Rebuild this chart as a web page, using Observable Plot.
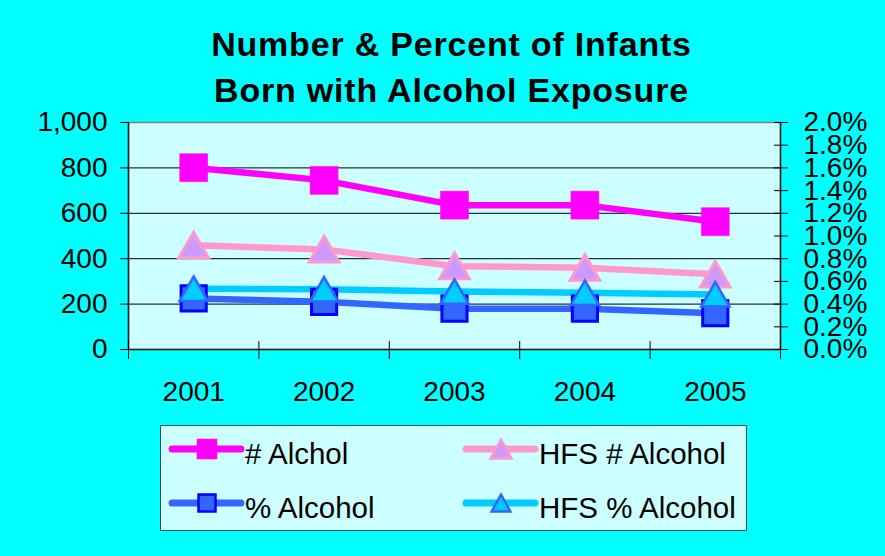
<!DOCTYPE html>
<html><head><meta charset="utf-8">
<script src="https://cdn.jsdelivr.net/npm/d3@7"></script>
<script src="https://cdn.jsdelivr.net/npm/@observablehq/plot@0.6"></script>
<style>
html,body{margin:0;padding:0;background:#00FFFF;}
#wrap{position:relative;width:885px;height:556px;background:#00FFFF;font-family:"Liberation Sans",Arial,sans-serif;overflow:hidden;}
#title{position:absolute;left:9px;top:21px;width:885px;text-align:center;font-weight:bold;font-size:34px;line-height:46px;letter-spacing:0.8px;color:#000;}
#chart{position:absolute;left:0;top:100px;}
#legend{position:absolute;left:160px;top:425px;width:585px;height:104px;border:1px solid #2F4F4F;background:#CCFFFF;}
#legend svg{display:block;}
</style>
</head><body>
<div id="wrap">
  <div id="title">Number &amp; Percent of Infants<br>Born with Alcohol Exposure</div>
  <div id="chart"></div>
  <div id="legend"></div>
</div>
<script>
// ---- data ----
const years = ["2001", "2002", "2003", "2004", "2005"];
const numAlchol = [801, 745, 636, 636, 563];          // # Alchol (left axis)
const hfsNumAlcohol = [459, 441, 367, 360, 331];      // HFS # Alcohol (left axis)
const pctAlcohol = [0.45, 0.42, 0.36, 0.36, 0.32];    // % Alcohol (right axis, %)
const hfsPctAlcohol = [0.535, 0.53, 0.51, 0.50, 0.485]; // HFS % Alcohol (right axis, %)
const leftTicks = [0, 200, 400, 600, 800, 1000];
const rightTicks = [0, 0.2, 0.4, 0.6, 0.8, 1.0, 1.2, 1.4, 1.6, 1.8, 2.0];
const seriesNames = ["# Alchol", "HFS # Alcohol", "% Alcohol", "HFS % Alcohol"];

// ---- build ----
const pctToLeft = 1000 / 2.0; // right axis 0..2% maps onto left axis 0..1000
const rows = years.map((year, i) => ({
  i, year,
  num: numAlchol[i],
  hfsNum: hfsNumAlcohol[i],
  pct: pctAlcohol[i] * pctToLeft,
  hfsPct: hfsPctAlcohol[i] * pctToLeft
}));
const xPos = d => d.i + 0.5;
const boundaries = d3.range(years.length + 1);
const centers = d3.range(years.length).map(i => i + 0.5);
const gridTicks = leftTicks.filter(t => t > 0 && t < 1000);

const COL = {
  num: "#FF00FF",
  hfsNumLine: "#FF99CC", hfsNumFill: "#CC99FF",
  pctLine: "#3366FF", pctStroke: "#0000FF",
  hfsPctLine: "#00CCFF", hfsPctStroke: "#3366FF"
};

const chart = Plot.plot({
  width: 885,
  height: 310,
  marginLeft: 128,
  marginRight: 105,
  marginTop: 22,
  marginBottom: 61,
  style: {background: "transparent", color: "#000", fontFamily: "'Liberation Sans', Arial, sans-serif", overflow: "visible"},
  x: {type: "linear", domain: [0, years.length], label: null},
  y: {domain: [0, 1000], label: null},
  marks: [
    Plot.frame({fill: "#CCFFFF", stroke: "#808080", strokeWidth: 1.5}),
    Plot.gridY(gridTicks, {stroke: "#000", strokeOpacity: 1, strokeWidth: 1}),
    Plot.ruleX([0, years.length], {stroke: "#222", strokeWidth: 1.5}),
    Plot.ruleY([0], {stroke: "#222", strokeWidth: 1.5}),
    Plot.axisY(leftTicks, {anchor: "left", tickSize: 8, tickPadding: 13, fontSize: 28, tickFormat: d3.format(","), label: null}),
    Plot.axisY(rightTicks, {anchor: "right", y: d => d * pctToLeft, tickSize: 14, dx: -7, tickPadding: 16, fontSize: 28, tickFormat: d => d.toFixed(1) + "%", label: null}),
    Plot.axisX(boundaries, {anchor: "bottom", tickSize: 18, dy: -8, tickFormat: () => "", label: null}),
    Plot.axisX(centers, {anchor: "bottom", tickSize: 0, tickPadding: 32, fontSize: 28, tickFormat: d => years[Math.floor(d)], label: null}),
    // lines
    Plot.lineY(rows, {x: xPos, y: "num", stroke: COL.num, strokeWidth: 6.5}),
    Plot.lineY(rows, {x: xPos, y: "hfsNum", stroke: COL.hfsNumLine, strokeWidth: 6.5}),
    Plot.lineY(rows, {x: xPos, y: "pct", stroke: COL.pctLine, strokeWidth: 6.5}),
    Plot.lineY(rows, {x: xPos, y: "hfsPct", stroke: COL.hfsPctLine, strokeWidth: 6.5}),
    // markers
    Plot.dot(rows, {x: xPos, y: "num", symbol: "square", r: 15.8, fill: COL.num, stroke: COL.num, strokeWidth: 0.5}),
    Plot.dot(rows, {x: xPos, y: "hfsNum", symbol: "triangle", r: 11, dy: 4, fill: COL.hfsNumFill, stroke: COL.hfsNumLine, strokeWidth: 3}),
    Plot.dot(rows, {x: xPos, y: "pct", symbol: "square", r: 14.2, fill: COL.pctLine, stroke: COL.pctStroke, strokeWidth: 3}),
    Plot.dot(rows, {x: xPos, y: "hfsPct", symbol: "triangle", r: 10.5, dy: 4, fill: COL.hfsPctLine, stroke: COL.hfsPctStroke, strokeWidth: 2.5})
  ]
});
document.getElementById("chart").appendChild(chart);

// ---- legend ----
const lg = d3.select("#legend").append("svg").attr("width", 585).attr("height", 104)
  .style("font-family", "'Liberation Sans', Arial, sans-serif");
const items = [
  {name: seriesNames[0], col: 0, row: 0, line: COL.num, sym: "square", fill: COL.num, stroke: COL.num, sw: 0.5, size: 20},
  {name: seriesNames[1], col: 1, row: 0, line: COL.hfsNumLine, sym: "triangle", fill: COL.hfsNumFill, stroke: COL.hfsNumLine, sw: 2.5, size: 19},
  {name: seriesNames[2], col: 0, row: 1, line: COL.pctLine, sym: "square", fill: COL.pctLine, stroke: COL.pctStroke, sw: 2.5, size: 17},
  {name: seriesNames[3], col: 1, row: 1, line: COL.hfsPctLine, sym: "triangle", fill: COL.hfsPctLine, stroke: COL.hfsPctStroke, sw: 2.5, size: 17}
];
const colX = [11, 305], rowY = [23, 77];
for (const it of items) {
  const x0 = colX[it.col], cy = rowY[it.row];
  const g = lg.append("g");
  g.append("line").attr("x1", x0).attr("x2", x0 + 69).attr("y1", cy).attr("y2", cy)
    .attr("stroke", it.line).attr("stroke-width", 7).attr("stroke-linecap", "round");
  const cx = x0 + 35, s = it.size;
  if (it.sym === "square") {
    g.append("rect").attr("x", cx - s / 2).attr("y", cy - s / 2).attr("width", s).attr("height", s)
      .attr("fill", it.fill).attr("stroke", it.stroke).attr("stroke-width", it.sw);
  } else {
    const h = s, w = s * 1.1;
    g.append("path").attr("d", `M${cx},${cy - h / 2}L${cx + w / 2},${cy + h / 2}L${cx - w / 2},${cy + h / 2}Z`)
      .attr("fill", it.fill).attr("stroke", it.stroke).attr("stroke-width", it.sw).attr("stroke-linejoin", "miter");
  }
  g.append("text").attr("x", x0 + 73).attr("y", cy + 15).attr("font-size", 29.5).attr("fill", "#000").text(it.name);
}
</script>
</body></html>
